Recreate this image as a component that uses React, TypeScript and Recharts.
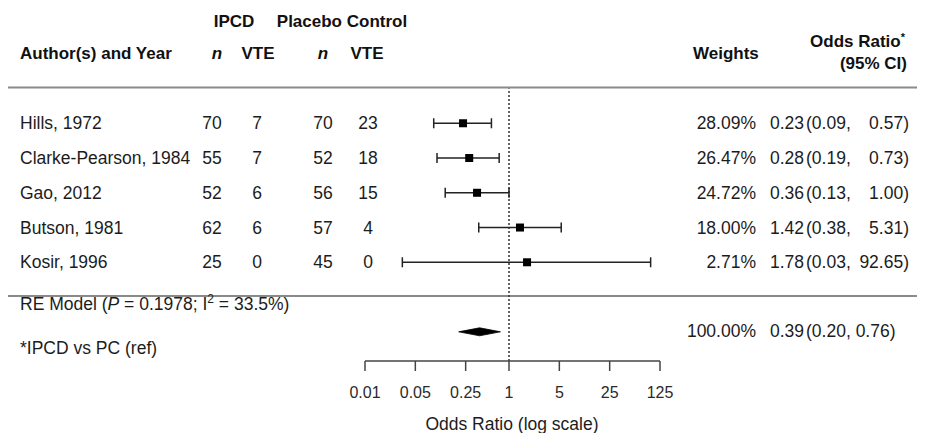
import React from "react";
import {
  ScatterChart,
  Scatter,
  XAxis,
  YAxis,
  ErrorBar,
  ReferenceLine,
  Customized,
} from "recharts";

// Forest plot: IPCD vs placebo control, odds ratio of VTE (log scale)

const STUDIES = [
  "Hills, 1972",
  "Clarke-Pearson, 1984",
  "Gao, 2012",
  "Butson, 1981",
  "Kosir, 1996",
];
const IPCD_N = [70, 55, 52, 62, 25];
const IPCD_VTE = [7, 7, 6, 6, 0];
const PC_N = [70, 52, 56, 57, 45];
const PC_VTE = [23, 18, 15, 4, 0];
const WEIGHTS = [28.09, 26.47, 24.72, 18.0, 2.71];
const ODDS = [0.23, 0.28, 0.36, 1.42, 1.78];
// whisker ends as drawn in the figure
const CI_LOW = [0.09, 0.1, 0.13, 0.38, 0.033];
const CI_HIGH = [0.57, 0.73, 1.0, 5.31, 92.65];
// lower limits as printed in the table column
const CI_LOW_TEXT = ["0.09", "0.19", "0.13", "0.38", "0.03"];

const RE_ODDS = 0.39;
const RE_LOW = 0.2;
const RE_HIGH = 0.76;
const RE_WEIGHT = 100;

const X_TICKS = [0.01, 0.05, 0.25, 1, 5, 25, 125];

const FONT = '"Liberation Sans", Arial, Helvetica, sans-serif';
const INK = "#1c1c1c";
const W = 928;
const H = 433;
const ROW_PX = 34.75;
const RE_ROW = 7;
const DIAMOND_HALF = 4 / ROW_PX;

const COL = {
  study: 20,
  ipcdN: 212,
  ipcdVte: 257,
  pcN: 323,
  pcVte: 368,
  weight: 756,
  est: 770,
  low: 806,
  high: 909,
};

const studyData = STUDIES.map((_, i) => ({
  x: ODDS[i],
  y: i + 1,
  err: [ODDS[i] - CI_LOW[i], CI_HIGH[i] - ODDS[i]],
  i,
}));

const diamondData = [
  { x: RE_LOW, y: RE_ROW },
  { x: RE_ODDS, y: RE_ROW - DIAMOND_HALF },
  { x: RE_HIGH, y: RE_ROW },
  { x: RE_ODDS, y: RE_ROW + DIAMOND_HALF },
];

const txt = { fontFamily: FONT, fontSize: 17.5, fill: INK };

function StudyShape(props: any) {
  const { cx, cy, payload } = props;
  const i = payload.i;
  const s = 8;
  return (
    <g>
      <rect x={cx - s / 2} y={cy - s / 2} width={s} height={s} fill="#000" />
      <g style={txt}>
        <text x={COL.study} y={cy} dy={6}>{STUDIES[i]}</text>
        <text x={COL.ipcdN} y={cy} dy={6} textAnchor="middle">{IPCD_N[i]}</text>
        <text x={COL.ipcdVte} y={cy} dy={6} textAnchor="middle">{IPCD_VTE[i]}</text>
        <text x={COL.pcN} y={cy} dy={6} textAnchor="middle">{PC_N[i]}</text>
        <text x={COL.pcVte} y={cy} dy={6} textAnchor="middle">{PC_VTE[i]}</text>
        <text x={COL.weight} y={cy} dy={6} textAnchor="end">
          {WEIGHTS[i].toFixed(2)}%
        </text>
        <text x={COL.est} y={cy} dy={6}>{ODDS[i].toFixed(2)}</text>
        <text x={COL.low} y={cy} dy={6}>({CI_LOW_TEXT[i]},</text>
        <text x={COL.high} y={cy} dy={6} textAnchor="end">
          {CI_HIGH[i].toFixed(2)})
        </text>
      </g>
    </g>
  );
}

function DiamondLine(props: any) {
  const pts = (props.points || []) as { x: number; y: number }[];
  return (
    <polygon
      points={pts.map((p) => `${p.x},${p.y}`).join(" ")}
      fill="#000"
      stroke="#000"
      strokeWidth={0.8}
    />
  );
}

function Overlay() {
  const head = { fontFamily: FONT, fontSize: 17, fontWeight: 700, fill: "#111" };
  return (
    <g>
      <line x1={8} x2={917} y1={87.5} y2={87.5} stroke="#8a8a8a" strokeWidth={2} />
      <line x1={8} x2={917} y1={296} y2={296} stroke="#8a8a8a" strokeWidth={2} />

      <g style={head}>
        <text x={234} y={26.5} textAnchor="middle">IPCD</text>
        <text x={342} y={26.5} textAnchor="middle">Placebo Control</text>
        <text x={20} y={59}>Author(s) and Year</text>
        <text x={COL.ipcdN + 5} y={59} textAnchor="middle" fontStyle="italic">n</text>
        <text x={258} y={59} textAnchor="middle">VTE</text>
        <text x={COL.pcN} y={59} textAnchor="middle" fontStyle="italic">n</text>
        <text x={367} y={59} textAnchor="middle">VTE</text>
        <text x={693} y={59}>Weights</text>
        <text x={905} y={47} textAnchor="end">
          Odds Ratio
          <tspan fontSize={11} dy={-6}>*</tspan>
        </text>
        <text x={907} y={69} textAnchor="end">(95% CI)</text>
      </g>

      <g style={txt}>
        <text x={COL.study} y={310}>
          RE Model (<tspan fontStyle="italic">P</tspan> = 0.1978; I
          <tspan fontSize={12} dy={-7}>2</tspan>
          <tspan dy={7}> = 33.5%)</tspan>
        </text>
        <text x={COL.study} y={354}>*IPCD vs PC (ref)</text>
        <text x={COL.weight} y={336.5} textAnchor="end">
          {RE_WEIGHT.toFixed(2)}%
        </text>
        <text x={COL.est} y={336.5}>{RE_ODDS.toFixed(2)}</text>
        <text x={COL.low} y={336.5}>
          ({RE_LOW.toFixed(2)}, {RE_HIGH.toFixed(2)})
        </text>
        <text x={512} y={429.5} textAnchor="middle">Odds Ratio (log scale)</text>
      </g>
    </g>
  );
}

export default function App() {
  return (
    <div style={{ position: "absolute", left: 0, top: 0, width: W, height: H, background: "#fff" }}>
      <ScatterChart
        width={W}
        height={H}
        margin={{ top: 88.5, right: 268, bottom: 32, left: 365 }}
      >
        <XAxis
          type="number"
          dataKey="x"
          scale="log"
          domain={[0.01, 125]}
          ticks={X_TICKS}
          interval={0}
          height={40}
          tickSize={10}
          tickMargin={16}
          tickFormatter={(v: number) => String(v)}
          tick={{ fontSize: 16, fill: "#2a2a2a", fontFamily: FONT }}
          axisLine={{ stroke: "#444", strokeWidth: 1.5 }}
          tickLine={{ stroke: "#444", strokeWidth: 1.5 }}
        />
        <YAxis type="number" dataKey="y" domain={[0, 7.84]} reversed hide />
        <ReferenceLine x={1} stroke="#333" strokeWidth={1.5} strokeDasharray="2 2" />
        <Customized component={Overlay} />
        <Scatter
          data={studyData}
          fill="#000"
          shape={StudyShape}
          isAnimationActive={false}
        >
          <ErrorBar
            dataKey="err"
            direction="x"
            width={5}
            stroke="#222"
            strokeWidth={1.5}
            isAnimationActive={false}
          />
        </Scatter>
        <Scatter
          data={diamondData}
          fill="#000"
          line={DiamondLine}
          shape={() => <g />}
          isAnimationActive={false}
        />
      </ScatterChart>
    </div>
  );
}
